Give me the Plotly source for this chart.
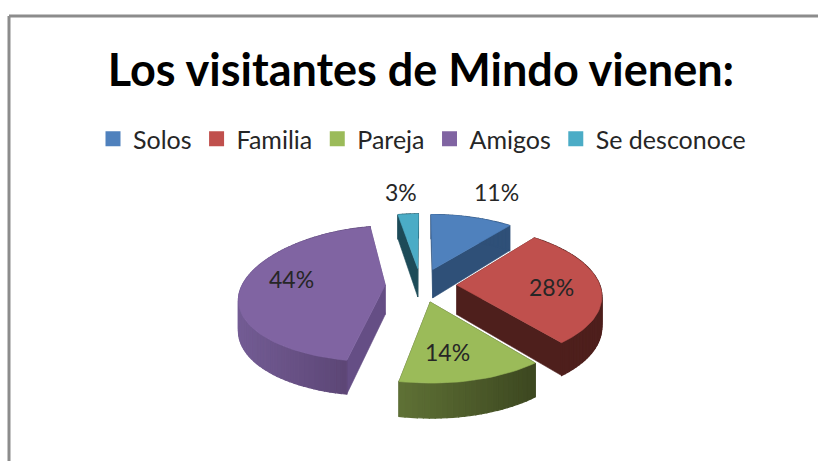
import math
import plotly.graph_objects as go

categories = ["Solos", "Familia", "Pareja", "Amigos", "Se desconoce"]
values = [11, 28, 14, 44, 3]
labels = ["11%", "28%", "14%", "44%", "3%"]

top_colors = ["#4F81BD", "#C0504D", "#9BBB59", "#8064A2", "#4BACC6"]
wall_left = ["#2F5078", "#4E1F1C", "#5F7135", "#735C94", "#1D4B58"]
wall_right = ["#2F5078", "#4E1F1C", "#3C4720", "#57416F", "#1D4B58"]
edge_wall = ["#2F5078", "#4E1F1C", "#3C4720", "#654E85", "#1D4B58"]
draw_order = [4, 0, 3, 1, 2]
# label placement as (radius factor, angle offset in degrees) from each slice's mid-angle
label_place = [(1.665, 2.1), (0.66, 2.0), (0.65, 5.2), (0.68, 8.0), (1.54, -1.7)]

CX, CY, RX, RY = 421, 285, 143, 68
EXPLODE = 0.25
PX_LEFT, PX_RIGHT, PY = 0.19, 0.14, 0.13
DEPTH, DEPTH_P = 29.5, 0.15


def project(u, v, lifted=True):
    px = PX_LEFT if u < 0 else PX_RIGHT
    sx = CX + RX * u * (1 + px * v)
    sy = CY + RY * v * (1 + PY * v)
    if not lifted:
        sy += DEPTH * (1 + DEPTH_P * v)
    return sx, sy


def point(angle, r, ex, ey):
    a = math.radians(angle)
    return ex + r * math.sin(a), ey - r * math.cos(a)


def mix(c1, c2, t):
    p = [int(c1[i:i + 2], 16) for i in (1, 3, 5)]
    q = [int(c2[i:i + 2], 16) for i in (1, 3, 5)]
    return "rgb(%d,%d,%d)" % tuple(round(a + (b - a) * t) for a, b in zip(p, q))


def poly(fig, pts, color, width=0.6):
    xs = [p[0] for p in pts] + [pts[0][0]]
    ys = [p[1] for p in pts] + [pts[0][1]]
    fig.add_trace(go.Scatter(x=xs, y=ys, mode="lines", fill="toself", fillcolor=color,
                             line=dict(color=color, width=width), hoverinfo="skip", showlegend=False))


total = sum(values)
starts, acc = [], 0.0
for v in values:
    starts.append(acc)
    acc += v / total * 360

fig = go.Figure()
annotations = []
for i in draw_order:
    a0 = starts[i]
    a1 = a0 + values[i] / total * 360
    mid = (a0 + a1) / 2
    ex, ey = point(mid, EXPLODE, 0, 0)
    n = max(2, int((a1 - a0) / 2))
    angles = [a0 + (a1 - a0) * k / n for k in range(n + 1)]
    rim = [point(a, 1, ex, ey) for a in angles]

    # straight side walls
    for p_edge in (rim[0], rim[-1]):
        poly(fig, [project(ex, ey), project(*p_edge), project(*p_edge, lifted=False), project(ex, ey, lifted=False)],
             edge_wall[i])
    # curved outer wall, shaded from left to right
    xs_all = [project(*p)[0] for p in rim]
    lo, hi = min(xs_all), max(xs_all)
    for k in range(n):
        p, q = rim[k], rim[k + 1]
        t = ((project(*p)[0] + project(*q)[0]) / 2 - lo) / max(hi - lo, 1)
        poly(fig, [project(*p), project(*q), project(*q, lifted=False), project(*p, lifted=False)],
             mix(wall_left[i], wall_right[i], t), width=1.2)
    # top face
    poly(fig, [project(ex, ey)] + [project(*p) for p in rim], top_colors[i])

for i in range(len(values)):
    a0 = starts[i]
    mid = a0 + values[i] / total * 180
    ex, ey = point(mid, EXPLODE, 0, 0)
    r, da = label_place[i]
    lx, ly = project(*point(mid + da, r, ex, ey))
    annotations.append(dict(x=lx, y=ly, xref="x", yref="y", text=labels[i], showarrow=False,
                            font=dict(family="Lato", size=23, color="#262626")))

for name, color in zip(categories, top_colors):
    fig.add_trace(go.Scatter(x=[None], y=[None], mode="markers", name=name,
                             marker=dict(symbol="square", size=15, color=color)))

frame = dict(color="#8C8C8C", width=3)
shapes = [
    dict(type="line", xref="x", yref="y", x0=9, x1=9, y0=16, y1=461, line=frame),
    dict(type="line", xref="x", yref="y", x0=9, x1=818, y0=16, y1=16, line=frame),
]

fig.update_layout(
    width=818, height=461, margin=dict(l=0, r=0, t=0, b=0),
    paper_bgcolor="white", plot_bgcolor="white",
    xaxis=dict(range=[0, 818], visible=False, fixedrange=True),
    yaxis=dict(range=[461, 0], visible=False, fixedrange=True),
    title=dict(text="<b>Los visitantes de Mindo vienen:</b>", x=421 / 818, y=1 - 70 / 461,
               xanchor="center", yanchor="middle", font=dict(family="Lato", size=45, color="black")),
    legend=dict(orientation="h", x=422 / 818, y=1 - 139 / 461, xanchor="center", yanchor="middle",
                font=dict(family="Lato", size=25, color="#262626"), bgcolor="rgba(0,0,0,0)"),
    annotations=annotations, shapes=shapes,
)
fig.write_html("out.html", config={"displayModeBar": False},
               post_script="document.body.style.margin='0';document.body.style.overflow='hidden';")
